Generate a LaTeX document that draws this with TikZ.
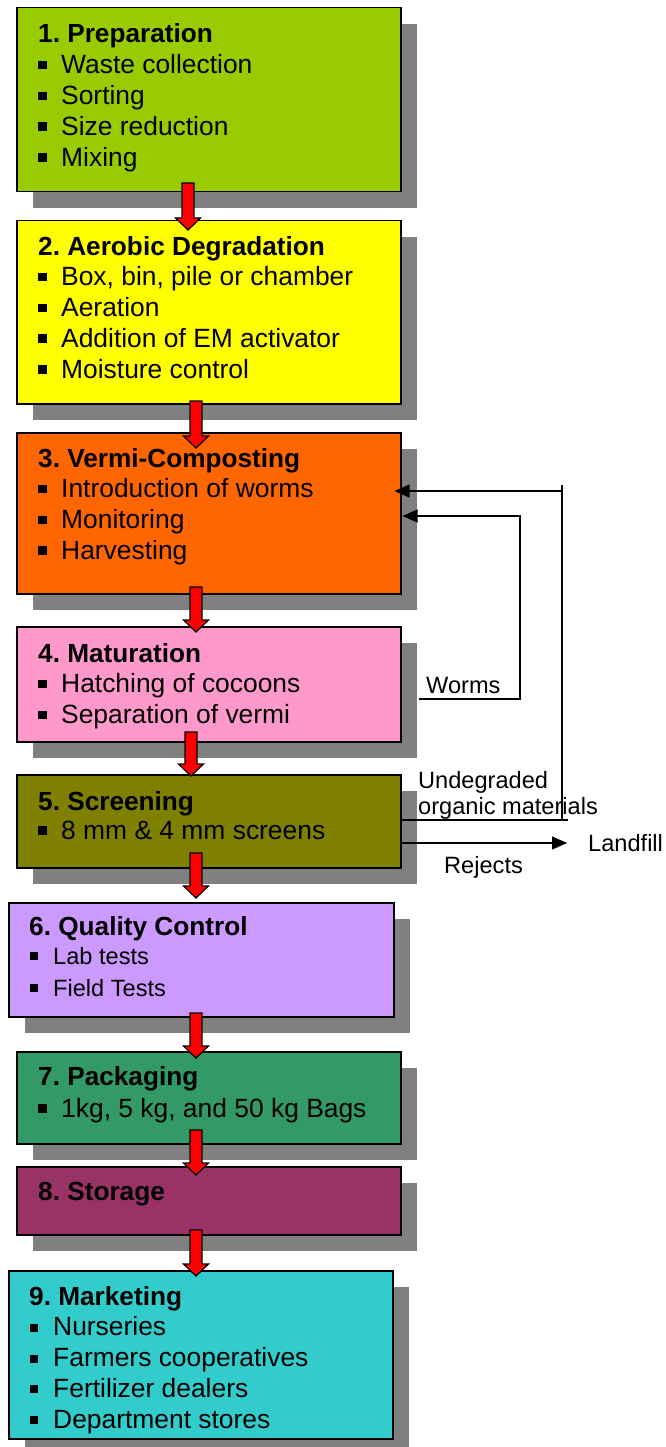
\documentclass[tikz,border=0pt]{standalone}
\usepackage{fontspec}
\setmainfont{Liberation Sans}
\usetikzlibrary{arrows.meta,shadows}
\frenchspacing

\definecolor{prepgreen}{HTML}{99CC00}
\definecolor{aeroyellow}{HTML}{FFFF00}
\definecolor{vermiorange}{HTML}{FF6600}
\definecolor{maturpink}{HTML}{FF99CC}
\definecolor{screenolive}{HTML}{808000}
\definecolor{qualilac}{HTML}{CC99FF}
\definecolor{packgreen}{HTML}{339966}
\definecolor{storeplum}{HTML}{993366}
\definecolor{markteal}{HTML}{33CCCC}
\definecolor{shadowgray}{HTML}{808080}
\definecolor{arrowred}{HTML}{FF0000}

\newcommand{\sqbullet}{\raisebox{4.5pt}{\rule{8.5pt}{8.5pt}}\hspace{14.5pt}}
\newcommand{\smbullet}{\raisebox{4pt}{\rule{8pt}{8pt}}\hspace{15pt}}

\tikzset{
  stage/.style={draw=black, line width=1.5pt, anchor=north west, inner sep=0pt,
    drop shadow={shadow xshift=16pt, shadow yshift=-16pt, fill=shadowgray, opacity=1}},
  stagetitle/.style={anchor=base west, inner sep=0pt, font=\fontsize{26.2}{31}\selectfont\bfseries},
  stageitem/.style={anchor=base west, inner sep=0pt, font=\fontsize{26.4}{31}\selectfont},
  smallitem/.style={anchor=base west, inner sep=0pt, font=\fontsize{23.6}{28}\selectfont},
  note/.style={anchor=base west, inner sep=0pt, font=\fontsize{23.6}{28}\selectfont},
  feed/.style={line width=1.3pt, -{Triangle[length=15pt, width=13pt]}},
  pics/downarrow/.style={code={
    \filldraw[fill=arrowred, draw=black, line width=1.2pt]
      (-6,0) -- (-6,#1-12) -- (-12.5,#1-12) -- (0,#1) -- (12.5,#1-12) -- (6,#1-12) -- (6,0) -- cycle;
  }}
}

\begin{document}
\begin{tikzpicture}[x=1pt, y=-1pt]
\useasboundingbox (0,0) rectangle (665,1447);
% Stages
    \node[stage, fill=prepgreen,   minimum width=384pt, minimum height=184pt] (prep)    at (16,7) {};
    \node[stage, fill=aeroyellow,  minimum width=384pt, minimum height=183pt] (aerobic) at (16,220) {};
    \node[stage, fill=vermiorange, minimum width=384pt, minimum height=161pt] (vermi)   at (16,432) {};
    \node[stage, fill=maturpink,   minimum width=384pt, minimum height=115pt] (matur)   at (16,626) {};
    \node[stage, fill=screenolive, minimum width=384pt, minimum height=93pt]  (screen)  at (16,774) {};
    \node[stage, fill=qualilac,    minimum width=385pt, minimum height=114pt] (quality) at (8,902) {};
    \node[stage, fill=packgreen,   minimum width=384pt, minimum height=92pt]  (pack)    at (16,1051) {};
    \node[stage, fill=storeplum,   minimum width=384pt, minimum height=68pt]  (store)   at (16,1166) {};
    \node[stage, fill=markteal,    minimum width=384pt, minimum height=168pt] (market)  at (8,1270) {};
% Titles and bullets
    \node[stagetitle] (prep-t) at (38,43) {1. Preparation};
    \foreach \txt [count=\i] in {Waste collection, Sorting, Size reduction, Mixing}
        \node[stageitem] (prep-\i) at (38,43+30.8*\i) {\sqbullet\txt};
    \node[stagetitle] (aerobic-t) at (38,255) {2. Aerobic Degradation};
    \foreach \txt [count=\i] in {{Box, bin, pile or chamber}, Aeration, Addition of EM activator, Moisture control}
        \node[stageitem] (aerobic-\i) at (38,255+30.8*\i) {\sqbullet\txt};
    \node[stagetitle] (vermi-t) at (38,467) {3. Vermi-Composting};
    \foreach \txt [count=\i] in {Introduction of worms, Monitoring, Harvesting}
        \node[stageitem] (vermi-\i) at (38,467+30.8*\i) {\sqbullet\txt};
    \node[stagetitle] (matur-t) at (38,662) {4. Maturation};
    \foreach \txt [count=\i] in {Hatching of cocoons, Separation of vermi}
        \node[stageitem] (matur-\i) at (38,662+30.8*\i) {\sqbullet\txt};
    \node[stagetitle] (screen-t) at (38,810) {5. Screening};
    \node[stageitem] (screen-1) at (38,839) {\sqbullet 8 mm \& 4 mm screens};
    \node[stagetitle] (quality-t) at (29,935) {6. Quality Control};
    \node[smallitem] (quality-1) at (30,964) {\smbullet Lab tests};
    \node[smallitem] (quality-2) at (30,996) {\smbullet Field Tests};
    \node[stagetitle] (pack-t) at (38,1085) {7. Packaging};
    \node[stageitem] (pack-1) at (38,1117) {\sqbullet 1kg, 5 kg, and 50 kg Bags};
    \node[stagetitle] (store-t) at (38,1200) {8. Storage};
    \node[stagetitle] (market-t) at (29,1305) {9. Marketing};
    \foreach \txt [count=\i] in {Nurseries, Farmers cooperatives, Fertilizer dealers, Department stores}
        \node[stageitem] (market-\i) at (30,1305+30.8*\i) {\smbullet\txt};
% Flow arrows
    \pic (a12) at (188,183)  {downarrow=47};
    \pic (a23) at (196,401)  {downarrow=47};
    \pic (a34) at (196,587)  {downarrow=45};
    \pic (a45) at (191,732)  {downarrow=44};
    \pic (a56) at (196,853)  {downarrow=45};
    \pic (a67) at (196,1013) {downarrow=45};
    \pic (a78) at (196,1130) {downarrow=45};
    \pic (a89) at (196,1230) {downarrow=46};
% Side streams
    \node[note] (worms)    at (426,693) {Worms};
    \node[note] (undeg)    at (418,788) {Undegraded};
    \node[note] (organic)  at (418,814) {organic materials};
    \node[note] (landfill) at (588,851) {Landfill};
    \node[note] (rejects)  at (444,873) {Rejects};
    \coordinate (uptop) at (562,485);
    \coordinate (upbot) at (562,820);
    \draw[feed] ([xshift=17pt]matur.east |- 0,699) -| (520,516) -- ([xshift=1pt]vermi.east |- 0,516);
    \draw[line width=1.3pt] (screen.east |- upbot) -- ([xshift=6pt]upbot);
    \draw[line width=1.3pt] (uptop) -- (upbot);
    \draw[feed] (uptop |- 0,491) -- ([xshift=-7pt]vermi.east |- 0,491);
    \draw[feed] (screen.east |- 0,843) -- ([xshift=-21pt]landfill.west |- 0,843);
\end{tikzpicture}
\end{document}
